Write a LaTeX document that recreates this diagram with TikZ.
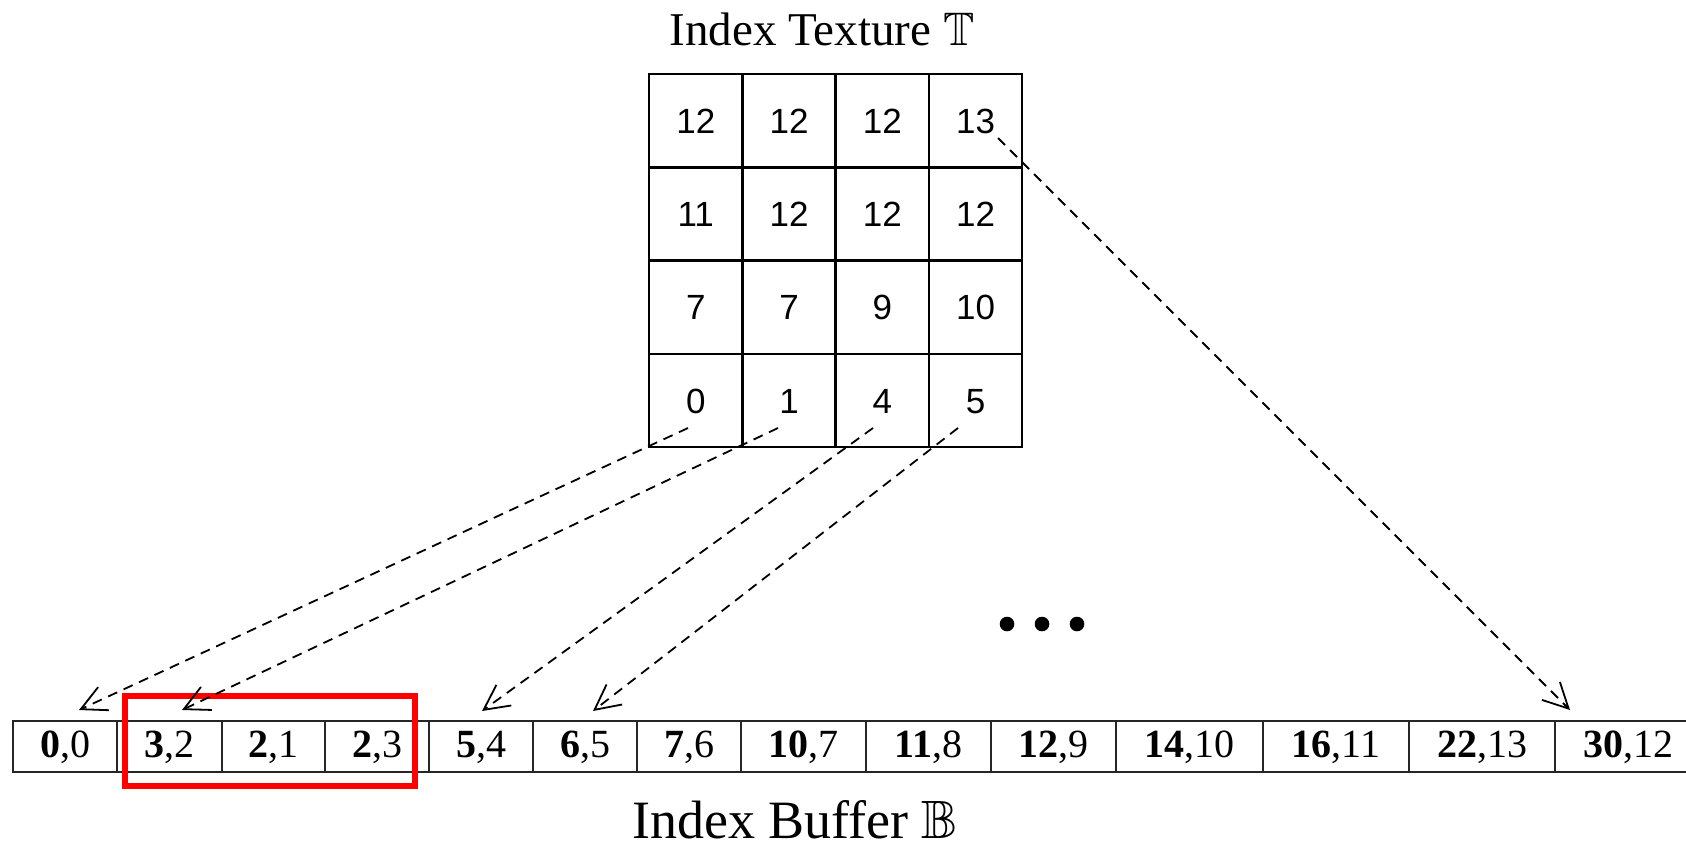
\documentclass[tikz,border=0pt]{standalone}
\usepackage{fontspec}
\usepackage{amssymb}
\setmainfont{Liberation Serif}
\newfontfamily\gridfont{Liberation Sans}
\usetikzlibrary{arrows.meta}

\begin{document}
\begin{tikzpicture}[x=0.5pt,y=-0.5pt,
  texcell/.style={draw, line width=1.25pt, minimum width=46.6pt, minimum height=46.6pt,
    inner sep=0pt, font=\gridfont\fontsize{17.5}{20}\selectfont, text height=12.5pt, text depth=0pt},
  bufcell/.style={draw=black!85, line width=1pt, minimum height=25.5pt, inner sep=0pt,
    font=\fontsize{20}{24}\selectfont, text height=13.5pt, text depth=3pt},
  link/.style={dash pattern=on 5pt off 3.5pt, line width=0.9pt,
    -{Straight Barb[length=12.5pt,width=12.7pt]}},
  hilite/.style={draw=red, line width=3pt},
  caption/.style={anchor=base, inner sep=0pt},
]
\useasboundingbox (0,0) rectangle (1686,847);
\clip (0,0) rectangle (1686,847);

% index texture: 4x4 grid of cells
\foreach \row [count=\r from 0] in {{12,12,12,13},{11,12,12,12},{7,7,9,10},{0,1,4,5}} {
  \foreach \v [count=\c from 0] in \row {
    \node[texcell] (t\r\c) at ({695.75+93.25*\c},{120.75+93.25*\r}) {\v};
  }
}
\node[caption, font=\fontsize{23.5}{28}\selectfont] (ttitle) at (822,45) {Index Texture $\mathbb{T}$};

% index buffer: one row of (offset, count) pairs
\foreach \cx/\w/\a/\b [count=\i from 0] in {65/52/0/0, 169.5/52.5/3/2, 273.5/51.5/2/1,
    377/52/2/3, 481/52/5/4, 585/52/6/5, 689/52/7/6, 803.5/62.5/10/7, 928.5/62.5/11/8,
    1053.5/62.5/12/9, 1189.5/73.5/14/10, 1336/73/16/11, 1482/73/22/13, 1628/73/30/12} {
  \node[bufcell, minimum width=\w pt] (b\i) at (\cx,746.5) {\textbf{\a},\b};
}
\node[caption, font=\fontsize{27}{32}\selectfont] (btitle) at (795,838) {Index Buffer $\mathbb{B}$};

% highlighted group of entries
\draw[hilite] ([shift={(9,-24)}]b1.north west) rectangle ([shift={(-15,13)}]b3.south east);

% lookups from texels into the buffer
\draw[link] ([shift={(-7.75,27.5)}]t30.center) -- ([shift={(14,-10)}]b0.north);
\draw[link] ([shift={(-11,27.5)}]t31.center) -- ([shift={(12.5,-10)}]b1.north);
\draw[link] ([shift={(-9.25,27.5)}]t32.center) -- ([shift={(1,-9)}]b4.north);
\draw[link] ([shift={(-17.5,27.5)}]t33.center) -- ([shift={(8,-9)}]b5.north);
\draw[link] ([shift={(22.5,17.25)}]t03.center) -- ([shift={(-58,-10)}]b13.north);

% ellipsis
\foreach \dx in {1007,1042,1077}
  \fill (\dx,624) circle[radius=3.65pt];
\end{tikzpicture}
\end{document}
